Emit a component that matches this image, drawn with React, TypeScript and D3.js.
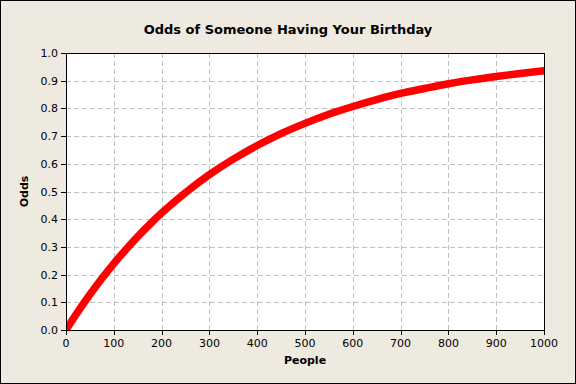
import React from "react";
import * as d3 from "d3";

const people = [0, 25, 50, 75, 100, 125, 150, 175, 200, 250, 300, 350, 400, 450, 500, 550, 600, 650, 700, 750, 800, 850, 900, 950, 1000];
const odds = [0, 0.066, 0.128, 0.186, 0.240, 0.290, 0.337, 0.381, 0.422, 0.496, 0.561, 0.617, 0.666, 0.709, 0.746, 0.779, 0.807, 0.832, 0.854, 0.872, 0.889, 0.903, 0.915, 0.926, 0.936];
const xTicks = [0, 100, 200, 300, 400, 500, 600, 700, 800, 900, 1000];
const yTicks = [0, 0.1, 0.2, 0.3, 0.4, 0.5, 0.6, 0.7, 0.8, 0.9, 1.0];

const W = 576, H = 384;
const m = { left: 66, right: 544, top: 53, bottom: 330 };
const font = "Tahoma, 'DejaVu Sans', Verdana, sans-serif";

export default function App() {
  const x = d3.scaleLinear().domain([0, 1000]).range([m.left, m.right]);
  const y = d3.scaleLinear().domain([0, 1]).range([m.bottom, m.top]);
  const pts: [number, number][] = people.map((p, i) => [p, odds[i]]);
  const line = d3.line<[number, number]>().x(d => x(d[0])).y(d => y(d[1])).curve(d3.curveMonotoneX);
  return (
    <svg width={W} height={H} style={{ position: "absolute", left: 0, top: 0 }} fontFamily={font}>
      <rect x={0.5} y={0.5} width={W - 1} height={H - 1} fill="#EEEAE0" stroke="#000" />
      <text x={288} y={34} textAnchor="middle" fontSize={13} fontWeight="bold" fill="#000">Odds of Someone Having Your Birthday</text>
      <rect x={m.left} y={m.top} width={m.right - m.left} height={m.bottom - m.top} fill="#fff" />
      <defs>
        <clipPath id="plot"><rect x={m.left} y={m.top} width={m.right - m.left} height={m.bottom - m.top} /></clipPath>
      </defs>
      {xTicks.slice(1, -1).map(t => (
        <line key={"gx" + t} x1={Math.round(x(t)) + 0.5} x2={Math.round(x(t)) + 0.5} y1={m.top} y2={m.bottom} stroke="#C0C0C0" strokeDasharray="5,3" />
      ))}
      {yTicks.slice(1, -1).map(t => (
        <line key={"gy" + t} y1={Math.round(y(t)) + 0.5} y2={Math.round(y(t)) + 0.5} x1={m.left} x2={m.right} stroke="#C0C0C0" strokeDasharray="5,3" />
      ))}
      <path d={line(pts) || ""} fill="none" stroke="#FF0000" strokeWidth={7.5} strokeLinecap="round" clipPath="url(#plot)" />
      <rect x={m.left + 0.5} y={m.top + 0.5} width={m.right - m.left} height={m.bottom - m.top} fill="none" stroke="#000" />
      {xTicks.map(t => (
        <g key={"xt" + t}>
          <line x1={Math.round(x(t)) + 0.5} x2={Math.round(x(t)) + 0.5} y1={m.bottom} y2={m.bottom + 5} stroke="#000" />
          <text x={x(t)} y={347} textAnchor="middle" fontSize={11} fill="#000">{t}</text>
        </g>
      ))}
      {yTicks.map(t => (
        <g key={"yt" + t}>
          <line x1={m.left - 5} x2={m.left} y1={Math.round(y(t)) + 0.5} y2={Math.round(y(t)) + 0.5} stroke="#000" />
          <text x={58} y={y(t) + 4} textAnchor="end" fontSize={11} fill="#000">{t.toFixed(1)}</text>
        </g>
      ))}
      <text x={(m.left + m.right) / 2} y={364} textAnchor="middle" fontSize={11} fontWeight="bold" fill="#000">People</text>
      <text transform={`translate(28,${(m.top + m.bottom) / 2}) rotate(-90)`} textAnchor="middle" fontSize={11} fontWeight="bold" fill="#000">Odds</text>
    </svg>
  );
}
